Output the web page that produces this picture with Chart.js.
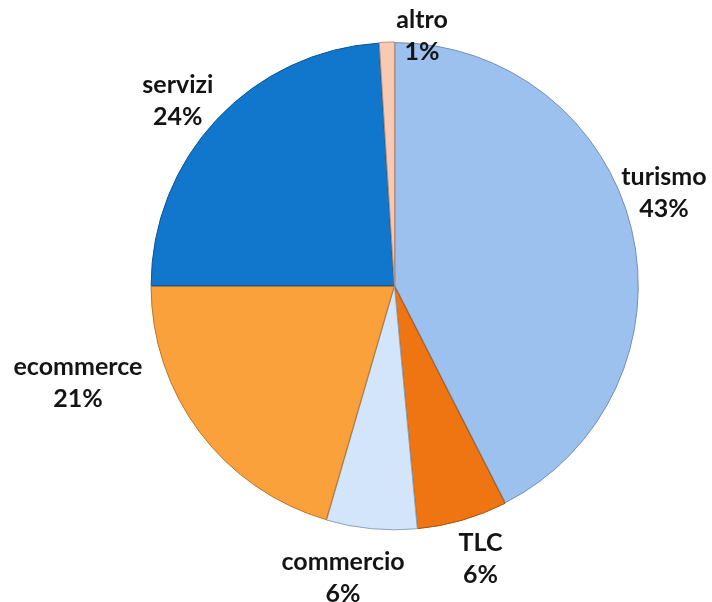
<!DOCTYPE html>
<html>
<head>
<meta charset="utf-8">
<script src="https://cdn.jsdelivr.net/npm/chart.js@4/dist/chart.umd.min.js"></script>
<style>
  html, body { margin: 0; padding: 0; background: #ffffff; }
  #wrap { width: 712px; height: 602px; }
</style>
</head>
<body>
<div id="wrap"><canvas id="c" width="712" height="602"></canvas></div>
<script>
// ---- data ----
const categories = ['turismo', 'TLC', 'commercio', 'ecommerce', 'servizi', 'altro'];
const values = [42.5, 6, 6, 20.5, 24, 1];
const sliceColors = ['#9DC1EE', '#EE7511', '#D2E5FB', '#FBA13B', '#1177CC', '#F8C9B3'];
const sliceBorders = ['#6F8FB8', '#A9520B', '#8FA3BA', '#B97426', '#0B5491', '#B88C78'];

// label placement (angle clockwise from top in degrees, distance as fraction of radius)
const labelAngles = [71, 162.5, 190, 253, 310.5, 6.3];
const labelDist = [1.163, 1.167, 1.208, 1.351, 1.163, 1.025];

const total = values.reduce((a, b) => a + b, 0);

const labelPlugin = {
  id: 'outLabels',
  afterDatasetsDraw(chart) {
    const ctx = chart.ctx;
    const meta = chart.getDatasetMeta(0);
    ctx.save();
    ctx.font = 'bold 25px Lato, "Open Sans", sans-serif';
    ctx.fillStyle = '#141414';
    ctx.textAlign = 'center';
    ctx.textBaseline = 'middle';
    meta.data.forEach((arc, i) => {
      const r = arc.outerRadius + 2;
      const a = labelAngles[i] * Math.PI / 180;
      const x = arc.x + Math.sin(a) * r * labelDist[i];
      const y = arc.y - Math.cos(a) * r * labelDist[i];
      const pct = Math.round(values[i] / total * 100) + '%';
      ctx.fillText(categories[i], x, y - 16);
      ctx.fillText(pct, x, y + 16);
    });
    ctx.restore();
  }
};

new Chart(document.getElementById('c'), {
  type: 'pie',
  data: {
    labels: categories,
    datasets: [{
      data: values,
      backgroundColor: sliceColors,
      borderColor: sliceBorders,
      borderWidth: 1,
      offset: 2
    }]
  },
  options: {
    responsive: false,
    animation: false,
    layout: { padding: { left: 150, right: 73, top: 41.5, bottom: 71.5 } },
    plugins: {
      legend: { display: false },
      tooltip: { enabled: false }
    }
  },
  plugins: [labelPlugin]
});
</script>
</body>
</html>
